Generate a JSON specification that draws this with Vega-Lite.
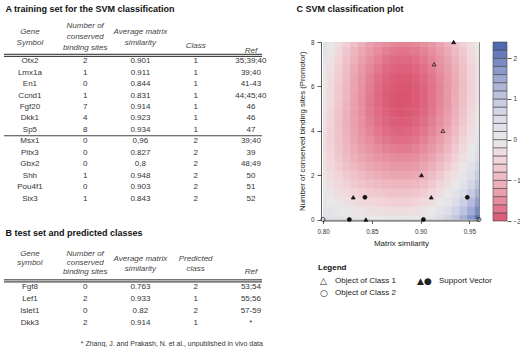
{
"$schema": "https://vega.github.io/schema/vega-lite/v6.json",
"padding": {"left": 2, "top": 4, "right": 0, "bottom": 0},
"background": "white",
"config": {"font": "Liberation Sans", "view": {"stroke": null}, "title": {"color": "#111"}},
"datasets": {
"trainA": [
{"gene":"Otx2","sites":2,"sim":"0.901","cls":1,"ref":"35;39;40"},
{"gene":"Lmx1a","sites":1,"sim":"0.911","cls":1,"ref":"39;40"},
{"gene":"En1","sites":0,"sim":"0.844","cls":1,"ref":"41-43"},
{"gene":"Ccnd1","sites":1,"sim":"0.831","cls":1,"ref":"44;45;40"},
{"gene":"Fgf20","sites":7,"sim":"0.914","cls":1,"ref":"46"},
{"gene":"Dkk1","sites":4,"sim":"0.923","cls":1,"ref":"46"},
{"gene":"Sp5","sites":8,"sim":"0.934","cls":1,"ref":"47"},
{"gene":"Msx1","sites":0,"sim":"0,96","cls":2,"ref":"39;40"},
{"gene":"Pitx3","sites":0,"sim":"0.827","cls":2,"ref":"39"},
{"gene":"Gbx2","sites":0,"sim":"0,8","cls":2,"ref":"48;49"},
{"gene":"Shh","sites":1,"sim":"0.948","cls":2,"ref":"50"},
{"gene":"Pou4f1","sites":0,"sim":"0.903","cls":2,"ref":"51"},
{"gene":"Six3","sites":1,"sim":"0.843","cls":2,"ref":"52"}
],
"testB": [
{"gene":"Fgf8","sites":0,"sim":"0.763","cls":2,"ref":"53;54"},
{"gene":"Lef1","sites":2,"sim":"0.933","cls":1,"ref":"55;56"},
{"gene":"Islet1","sites":0,"sim":"0.82","cls":2,"ref":"57-59"},
{"gene":"Dkk3","sites":2,"sim":"0.914","cls":1,"ref":"*"}
],
"hdrA": [
{"key":"gene","label":"Gene\nSymbol","g":"a"},
{"key":"sites","label":"Number of\nconserved\nbinding sites","g":"n"},
{"key":"sim","label":"Average matrix\nsimilarity","g":"a"},
{"key":"cls","label":"Class","g":"b"},
{"key":"ref","label":"Ref","g":"c"}
],
"hdrB": [
{"key":"gene","label":"Gene\nsymbol","g":"a"},
{"key":"sites","label":"Number of\nconserved\nbinding sites","g":"a"},
{"key":"sim","label":"Average matrix\nsimilarity","g":"b"},
{"key":"cls","label":"Predicted\nclass","g":"b"},
{"key":"ref","label":"Ref","g":"c"}
],
"svm": [
{"gene":"Otx2","s":0.901,"n":2,"cls":"1","sv":"yes"},
{"gene":"Lmx1a","s":0.911,"n":1,"cls":"1","sv":"yes"},
{"gene":"En1","s":0.844,"n":0,"cls":"1","sv":"yes"},
{"gene":"Ccnd1","s":0.831,"n":1,"cls":"1","sv":"yes"},
{"gene":"Fgf20","s":0.914,"n":7,"cls":"1","sv":"no"},
{"gene":"Dkk1","s":0.923,"n":4,"cls":"1","sv":"no"},
{"gene":"Sp5","s":0.934,"n":8,"cls":"1","sv":"yes"},
{"gene":"Msx1","s":0.96,"n":0,"cls":"2","sv":"no"},
{"gene":"Pitx3","s":0.827,"n":0,"cls":"2","sv":"yes"},
{"gene":"Gbx2","s":0.8,"n":0,"cls":"2","sv":"no"},
{"gene":"Shh","s":0.948,"n":1,"cls":"2","sv":"yes"},
{"gene":"Pou4f1","s":0.903,"n":0,"cls":"2","sv":"yes"},
{"gene":"Six3","s":0.843,"n":1,"cls":"2","sv":"yes"}
],
"bar": [
{"lo":-2,"hi":-1.8,"v":-1.9},{"lo":-1.8,"hi":-1.6,"v":-1.7},{"lo":-1.6,"hi":-1.4,"v":-1.5},{"lo":-1.4,"hi":-1.2,"v":-1.3},
{"lo":-1.2,"hi":-1,"v":-1.1},{"lo":-1,"hi":-0.8,"v":-0.9},{"lo":-0.8,"hi":-0.6,"v":-0.7},{"lo":-0.6,"hi":-0.4,"v":-0.5},
{"lo":-0.4,"hi":-0.2,"v":-0.3},{"lo":-0.2,"hi":0,"v":-0.1},{"lo":0,"hi":0.2,"v":0.1},{"lo":0.2,"hi":0.4,"v":0.3},
{"lo":0.4,"hi":0.6,"v":0.5},{"lo":0.6,"hi":0.8,"v":0.7},{"lo":0.8,"hi":1,"v":0.9},{"lo":1,"hi":1.2,"v":1.1},
{"lo":1.2,"hi":1.4,"v":1.3},{"lo":1.4,"hi":1.6,"v":1.5},{"lo":1.6,"hi":1.8,"v":1.7},{"lo":1.8,"hi":2,"v":1.9},
{"lo":2,"hi":2.2,"v":2.1},{"lo":2.2,"hi":2.4,"v":2.3}
],
"legend": [
{"col":"a","row":"1","sym":"△","label":"Object of Class 1"},
{"col":"a","row":"2","sym":"○","label":"Object of Class 2"},
{"col":"b","row":"1","sym":"▲●","label":"Support Vector"}
],
"grid": [
{"s":0.8,"n":0,"f":0.45},{"s":0.808,"n":0,"f":0.35},{"s":0.816,"n":0,"f":0.27},{"s":0.824,"n":0,"f":0.19},{"s":0.832,"n":0,"f":0.13},{"s":0.84,"n":0,"f":0.07},{"s":0.848,"n":0,"f":0.02},{"s":0.856,"n":0,"f":-0.01},{"s":0.864,"n":0,"f":-0.04},{"s":0.872,"n":0,"f":-0.06},{"s":0.88,"n":0,"f":-0.06},{"s":0.888,"n":0,"f":-0.05},{"s":0.896,"n":0,"f":0.01},{"s":0.904,"n":0,"f":0.12},{"s":0.912,"n":0,"f":0.27},{"s":0.92,"n":0,"f":0.48},{"s":0.928,"n":0,"f":0.73},{"s":0.936,"n":0,"f":1.03},{"s":0.944,"n":0,"f":1.38},{"s":0.952,"n":0,"f":1.78},{"s":0.96,"n":0,"f":2.22},
{"s":0.8,"n":0.4,"f":0.28},{"s":0.808,"n":0.4,"f":0.17},{"s":0.816,"n":0.4,"f":0.07},{"s":0.824,"n":0.4,"f":-0.03},{"s":0.832,"n":0.4,"f":-0.11},{"s":0.84,"n":0.4,"f":-0.17},{"s":0.848,"n":0.4,"f":-0.23},{"s":0.856,"n":0.4,"f":-0.27},{"s":0.864,"n":0.4,"f":-0.31},{"s":0.872,"n":0.4,"f":-0.33},{"s":0.88,"n":0.4,"f":-0.34},{"s":0.888,"n":0.4,"f":-0.32},{"s":0.896,"n":0.4,"f":-0.26},{"s":0.904,"n":0.4,"f":-0.16},{"s":0.912,"n":0.4,"f":0},{"s":0.92,"n":0.4,"f":0.2},{"s":0.928,"n":0.4,"f":0.45},{"s":0.936,"n":0.4,"f":0.74},{"s":0.944,"n":0.4,"f":1.09},{"s":0.952,"n":0.4,"f":1.48},{"s":0.96,"n":0.4,"f":1.91},
{"s":0.8,"n":0.8,"f":0.14},{"s":0.808,"n":0.8,"f":0.01},{"s":0.816,"n":0.8,"f":-0.12},{"s":0.824,"n":0.8,"f":-0.22},{"s":0.832,"n":0.8,"f":-0.32},{"s":0.84,"n":0.8,"f":-0.4},{"s":0.848,"n":0.8,"f":-0.46},{"s":0.856,"n":0.8,"f":-0.51},{"s":0.864,"n":0.8,"f":-0.55},{"s":0.872,"n":0.8,"f":-0.58},{"s":0.88,"n":0.8,"f":-0.59},{"s":0.888,"n":0.8,"f":-0.57},{"s":0.896,"n":0.8,"f":-0.52},{"s":0.904,"n":0.8,"f":-0.41},{"s":0.912,"n":0.8,"f":-0.26},{"s":0.92,"n":0.8,"f":-0.06},{"s":0.928,"n":0.8,"f":0.18},{"s":0.936,"n":0.8,"f":0.48},{"s":0.944,"n":0.8,"f":0.81},{"s":0.952,"n":0.8,"f":1.2},{"s":0.96,"n":0.8,"f":1.63},
{"s":0.8,"n":1.2,"f":0.02},{"s":0.808,"n":1.2,"f":-0.14},{"s":0.816,"n":1.2,"f":-0.28},{"s":0.824,"n":1.2,"f":-0.4},{"s":0.832,"n":1.2,"f":-0.51},{"s":0.84,"n":1.2,"f":-0.6},{"s":0.848,"n":1.2,"f":-0.67},{"s":0.856,"n":1.2,"f":-0.73},{"s":0.864,"n":1.2,"f":-0.78},{"s":0.872,"n":1.2,"f":-0.8},{"s":0.88,"n":1.2,"f":-0.82},{"s":0.888,"n":1.2,"f":-0.8},{"s":0.896,"n":1.2,"f":-0.75},{"s":0.904,"n":1.2,"f":-0.64},{"s":0.912,"n":1.2,"f":-0.49},{"s":0.92,"n":1.2,"f":-0.3},{"s":0.928,"n":1.2,"f":-0.06},{"s":0.936,"n":1.2,"f":0.23},{"s":0.944,"n":1.2,"f":0.56},{"s":0.952,"n":1.2,"f":0.94},{"s":0.96,"n":1.2,"f":1.36},
{"s":0.8,"n":1.6,"f":-0.08},{"s":0.808,"n":1.6,"f":-0.26},{"s":0.816,"n":1.6,"f":-0.42},{"s":0.824,"n":1.6,"f":-0.55},{"s":0.832,"n":1.6,"f":-0.68},{"s":0.84,"n":1.6,"f":-0.78},{"s":0.848,"n":1.6,"f":-0.86},{"s":0.856,"n":1.6,"f":-0.93},{"s":0.864,"n":1.6,"f":-0.98},{"s":0.872,"n":1.6,"f":-1.01},{"s":0.88,"n":1.6,"f":-1.03},{"s":0.888,"n":1.6,"f":-1.01},{"s":0.896,"n":1.6,"f":-0.96},{"s":0.904,"n":1.6,"f":-0.86},{"s":0.912,"n":1.6,"f":-0.71},{"s":0.92,"n":1.6,"f":-0.52},{"s":0.928,"n":1.6,"f":-0.28},{"s":0.936,"n":1.6,"f":0},{"s":0.944,"n":1.6,"f":0.33},{"s":0.952,"n":1.6,"f":0.7},{"s":0.96,"n":1.6,"f":1.12},
{"s":0.8,"n":2,"f":-0.16},{"s":0.808,"n":2,"f":-0.36},{"s":0.816,"n":2,"f":-0.54},{"s":0.824,"n":2,"f":-0.69},{"s":0.832,"n":2,"f":-0.83},{"s":0.84,"n":2,"f":-0.94},{"s":0.848,"n":2,"f":-1.04},{"s":0.856,"n":2,"f":-1.11},{"s":0.864,"n":2,"f":-1.17},{"s":0.872,"n":2,"f":-1.2},{"s":0.88,"n":2,"f":-1.22},{"s":0.888,"n":2,"f":-1.2},{"s":0.896,"n":2,"f":-1.15},{"s":0.904,"n":2,"f":-1.05},{"s":0.912,"n":2,"f":-0.9},{"s":0.92,"n":2,"f":-0.72},{"s":0.928,"n":2,"f":-0.48},{"s":0.936,"n":2,"f":-0.2},{"s":0.944,"n":2,"f":0.12},{"s":0.952,"n":2,"f":0.48},{"s":0.96,"n":2,"f":0.9},
{"s":0.8,"n":2.4,"f":-0.23},{"s":0.808,"n":2.4,"f":-0.44},{"s":0.816,"n":2.4,"f":-0.63},{"s":0.824,"n":2.4,"f":-0.81},{"s":0.832,"n":2.4,"f":-0.95},{"s":0.84,"n":2.4,"f":-1.08},{"s":0.848,"n":2.4,"f":-1.19},{"s":0.856,"n":2.4,"f":-1.27},{"s":0.864,"n":2.4,"f":-1.33},{"s":0.872,"n":2.4,"f":-1.37},{"s":0.88,"n":2.4,"f":-1.38},{"s":0.888,"n":2.4,"f":-1.37},{"s":0.896,"n":2.4,"f":-1.32},{"s":0.904,"n":2.4,"f":-1.22},{"s":0.912,"n":2.4,"f":-1.08},{"s":0.92,"n":2.4,"f":-0.89},{"s":0.928,"n":2.4,"f":-0.66},{"s":0.936,"n":2.4,"f":-0.39},{"s":0.944,"n":2.4,"f":-0.07},{"s":0.952,"n":2.4,"f":0.29},{"s":0.96,"n":2.4,"f":0.69},
{"s":0.8,"n":2.8,"f":-0.27},{"s":0.808,"n":2.8,"f":-0.5},{"s":0.816,"n":2.8,"f":-0.71},{"s":0.824,"n":2.8,"f":-0.9},{"s":0.832,"n":2.8,"f":-1.06},{"s":0.84,"n":2.8,"f":-1.2},{"s":0.848,"n":2.8,"f":-1.32},{"s":0.856,"n":2.8,"f":-1.41},{"s":0.864,"n":2.8,"f":-1.47},{"s":0.872,"n":2.8,"f":-1.51},{"s":0.88,"n":2.8,"f":-1.53},{"s":0.888,"n":2.8,"f":-1.52},{"s":0.896,"n":2.8,"f":-1.47},{"s":0.904,"n":2.8,"f":-1.37},{"s":0.912,"n":2.8,"f":-1.23},{"s":0.92,"n":2.8,"f":-1.05},{"s":0.928,"n":2.8,"f":-0.82},{"s":0.936,"n":2.8,"f":-0.56},{"s":0.944,"n":2.8,"f":-0.24},{"s":0.952,"n":2.8,"f":0.11},{"s":0.96,"n":2.8,"f":0.51},
{"s":0.8,"n":3.2,"f":-0.29},{"s":0.808,"n":3.2,"f":-0.54},{"s":0.816,"n":3.2,"f":-0.77},{"s":0.824,"n":3.2,"f":-0.97},{"s":0.832,"n":3.2,"f":-1.15},{"s":0.84,"n":3.2,"f":-1.3},{"s":0.848,"n":3.2,"f":-1.43},{"s":0.856,"n":3.2,"f":-1.52},{"s":0.864,"n":3.2,"f":-1.6},{"s":0.872,"n":3.2,"f":-1.64},{"s":0.88,"n":3.2,"f":-1.66},{"s":0.888,"n":3.2,"f":-1.65},{"s":0.896,"n":3.2,"f":-1.6},{"s":0.904,"n":3.2,"f":-1.5},{"s":0.912,"n":3.2,"f":-1.36},{"s":0.92,"n":3.2,"f":-1.19},{"s":0.928,"n":3.2,"f":-0.96},{"s":0.936,"n":3.2,"f":-0.7},{"s":0.944,"n":3.2,"f":-0.39},{"s":0.952,"n":3.2,"f":-0.05},{"s":0.96,"n":3.2,"f":0.35},
{"s":0.8,"n":3.6,"f":-0.29},{"s":0.808,"n":3.6,"f":-0.56},{"s":0.816,"n":3.6,"f":-0.81},{"s":0.824,"n":3.6,"f":-1.03},{"s":0.832,"n":3.6,"f":-1.22},{"s":0.84,"n":3.6,"f":-1.38},{"s":0.848,"n":3.6,"f":-1.51},{"s":0.856,"n":3.6,"f":-1.62},{"s":0.864,"n":3.6,"f":-1.7},{"s":0.872,"n":3.6,"f":-1.75},{"s":0.88,"n":3.6,"f":-1.77},{"s":0.888,"n":3.6,"f":-1.76},{"s":0.896,"n":3.6,"f":-1.71},{"s":0.904,"n":3.6,"f":-1.61},{"s":0.912,"n":3.6,"f":-1.48},{"s":0.92,"n":3.6,"f":-1.3},{"s":0.928,"n":3.6,"f":-1.08},{"s":0.936,"n":3.6,"f":-0.82},{"s":0.944,"n":3.6,"f":-0.52},{"s":0.952,"n":3.6,"f":-0.18},{"s":0.96,"n":3.6,"f":0.2},
{"s":0.8,"n":4,"f":-0.26},{"s":0.808,"n":4,"f":-0.56},{"s":0.816,"n":4,"f":-0.83},{"s":0.824,"n":4,"f":-1.06},{"s":0.832,"n":4,"f":-1.26},{"s":0.84,"n":4,"f":-1.44},{"s":0.848,"n":4,"f":-1.58},{"s":0.856,"n":4,"f":-1.7},{"s":0.864,"n":4,"f":-1.78},{"s":0.872,"n":4,"f":-1.83},{"s":0.88,"n":4,"f":-1.86},{"s":0.888,"n":4,"f":-1.84},{"s":0.896,"n":4,"f":-1.79},{"s":0.904,"n":4,"f":-1.7},{"s":0.912,"n":4,"f":-1.57},{"s":0.92,"n":4,"f":-1.4},{"s":0.928,"n":4,"f":-1.18},{"s":0.936,"n":4,"f":-0.93},{"s":0.944,"n":4,"f":-0.63},{"s":0.952,"n":4,"f":-0.3},{"s":0.96,"n":4,"f":0.08},
{"s":0.8,"n":4.4,"f":-0.22},{"s":0.808,"n":4.4,"f":-0.54},{"s":0.816,"n":4.4,"f":-0.82},{"s":0.824,"n":4.4,"f":-1.07},{"s":0.832,"n":4.4,"f":-1.29},{"s":0.84,"n":4.4,"f":-1.48},{"s":0.848,"n":4.4,"f":-1.63},{"s":0.856,"n":4.4,"f":-1.75},{"s":0.864,"n":4.4,"f":-1.84},{"s":0.872,"n":4.4,"f":-1.9},{"s":0.88,"n":4.4,"f":-1.92},{"s":0.888,"n":4.4,"f":-1.91},{"s":0.896,"n":4.4,"f":-1.86},{"s":0.904,"n":4.4,"f":-1.77},{"s":0.912,"n":4.4,"f":-1.64},{"s":0.92,"n":4.4,"f":-1.47},{"s":0.928,"n":4.4,"f":-1.26},{"s":0.936,"n":4.4,"f":-1.01},{"s":0.944,"n":4.4,"f":-0.72},{"s":0.952,"n":4.4,"f":-0.39},{"s":0.96,"n":4.4,"f":-0.02},
{"s":0.8,"n":4.8,"f":-0.16},{"s":0.808,"n":4.8,"f":-0.5},{"s":0.816,"n":4.8,"f":-0.8},{"s":0.824,"n":4.8,"f":-1.06},{"s":0.832,"n":4.8,"f":-1.3},{"s":0.84,"n":4.8,"f":-1.49},{"s":0.848,"n":4.8,"f":-1.66},{"s":0.856,"n":4.8,"f":-1.79},{"s":0.864,"n":4.8,"f":-1.88},{"s":0.872,"n":4.8,"f":-1.94},{"s":0.88,"n":4.8,"f":-1.97},{"s":0.888,"n":4.8,"f":-1.96},{"s":0.896,"n":4.8,"f":-1.91},{"s":0.904,"n":4.8,"f":-1.82},{"s":0.912,"n":4.8,"f":-1.69},{"s":0.92,"n":4.8,"f":-1.53},{"s":0.928,"n":4.8,"f":-1.32},{"s":0.936,"n":4.8,"f":-1.07},{"s":0.944,"n":4.8,"f":-0.79},{"s":0.952,"n":4.8,"f":-0.46},{"s":0.96,"n":4.8,"f":-0.1},
{"s":0.8,"n":5.2,"f":-0.08},{"s":0.808,"n":5.2,"f":-0.43},{"s":0.816,"n":5.2,"f":-0.75},{"s":0.824,"n":5.2,"f":-1.04},{"s":0.832,"n":5.2,"f":-1.28},{"s":0.84,"n":5.2,"f":-1.49},{"s":0.848,"n":5.2,"f":-1.67},{"s":0.856,"n":5.2,"f":-1.8},{"s":0.864,"n":5.2,"f":-1.9},{"s":0.872,"n":5.2,"f":-1.97},{"s":0.88,"n":5.2,"f":-1.99},{"s":0.888,"n":5.2,"f":-1.98},{"s":0.896,"n":5.2,"f":-1.94},{"s":0.904,"n":5.2,"f":-1.85},{"s":0.912,"n":5.2,"f":-1.72},{"s":0.92,"n":5.2,"f":-1.56},{"s":0.928,"n":5.2,"f":-1.36},{"s":0.936,"n":5.2,"f":-1.12},{"s":0.944,"n":5.2,"f":-0.84},{"s":0.952,"n":5.2,"f":-0.52},{"s":0.96,"n":5.2,"f":-0.16},
{"s":0.8,"n":5.6,"f":0},{"s":0.808,"n":5.6,"f":-0.37},{"s":0.816,"n":5.6,"f":-0.71},{"s":0.824,"n":5.6,"f":-1},{"s":0.832,"n":5.6,"f":-1.26},{"s":0.84,"n":5.6,"f":-1.48},{"s":0.848,"n":5.6,"f":-1.66},{"s":0.856,"n":5.6,"f":-1.8},{"s":0.864,"n":5.6,"f":-1.9},{"s":0.872,"n":5.6,"f":-1.97},{"s":0.88,"n":5.6,"f":-2},{"s":0.888,"n":5.6,"f":-1.99},{"s":0.896,"n":5.6,"f":-1.94},{"s":0.904,"n":5.6,"f":-1.86},{"s":0.912,"n":5.6,"f":-1.73},{"s":0.92,"n":5.6,"f":-1.57},{"s":0.928,"n":5.6,"f":-1.37},{"s":0.936,"n":5.6,"f":-1.14},{"s":0.944,"n":5.6,"f":-0.86},{"s":0.952,"n":5.6,"f":-0.55},{"s":0.96,"n":5.6,"f":-0.2},
{"s":0.8,"n":6,"f":0.01},{"s":0.808,"n":6,"f":-0.36},{"s":0.816,"n":6,"f":-0.69},{"s":0.824,"n":6,"f":-0.99},{"s":0.832,"n":6,"f":-1.24},{"s":0.84,"n":6,"f":-1.46},{"s":0.848,"n":6,"f":-1.64},{"s":0.856,"n":6,"f":-1.78},{"s":0.864,"n":6,"f":-1.89},{"s":0.872,"n":6,"f":-1.95},{"s":0.88,"n":6,"f":-1.98},{"s":0.888,"n":6,"f":-1.97},{"s":0.896,"n":6,"f":-1.93},{"s":0.904,"n":6,"f":-1.84},{"s":0.912,"n":6,"f":-1.72},{"s":0.92,"n":6,"f":-1.57},{"s":0.928,"n":6,"f":-1.37},{"s":0.936,"n":6,"f":-1.14},{"s":0.944,"n":6,"f":-0.87},{"s":0.952,"n":6,"f":-0.56},{"s":0.96,"n":6,"f":-0.22},
{"s":0.8,"n":6.4,"f":0.05},{"s":0.808,"n":6.4,"f":-0.32},{"s":0.816,"n":6.4,"f":-0.66},{"s":0.824,"n":6.4,"f":-0.95},{"s":0.832,"n":6.4,"f":-1.21},{"s":0.84,"n":6.4,"f":-1.42},{"s":0.848,"n":6.4,"f":-1.61},{"s":0.856,"n":6.4,"f":-1.75},{"s":0.864,"n":6.4,"f":-1.85},{"s":0.872,"n":6.4,"f":-1.92},{"s":0.88,"n":6.4,"f":-1.95},{"s":0.888,"n":6.4,"f":-1.94},{"s":0.896,"n":6.4,"f":-1.89},{"s":0.904,"n":6.4,"f":-1.81},{"s":0.912,"n":6.4,"f":-1.69},{"s":0.92,"n":6.4,"f":-1.54},{"s":0.928,"n":6.4,"f":-1.35},{"s":0.936,"n":6.4,"f":-1.12},{"s":0.944,"n":6.4,"f":-0.86},{"s":0.952,"n":6.4,"f":-0.56},{"s":0.96,"n":6.4,"f":-0.22},
{"s":0.8,"n":6.8,"f":0.1},{"s":0.808,"n":6.8,"f":-0.27},{"s":0.816,"n":6.8,"f":-0.6},{"s":0.824,"n":6.8,"f":-0.89},{"s":0.832,"n":6.8,"f":-1.15},{"s":0.84,"n":6.8,"f":-1.37},{"s":0.848,"n":6.8,"f":-1.55},{"s":0.856,"n":6.8,"f":-1.69},{"s":0.864,"n":6.8,"f":-1.8},{"s":0.872,"n":6.8,"f":-1.86},{"s":0.88,"n":6.8,"f":-1.89},{"s":0.888,"n":6.8,"f":-1.88},{"s":0.896,"n":6.8,"f":-1.84},{"s":0.904,"n":6.8,"f":-1.76},{"s":0.912,"n":6.8,"f":-1.64},{"s":0.92,"n":6.8,"f":-1.49},{"s":0.928,"n":6.8,"f":-1.3},{"s":0.936,"n":6.8,"f":-1.08},{"s":0.944,"n":6.8,"f":-0.82},{"s":0.952,"n":6.8,"f":-0.53},{"s":0.96,"n":6.8,"f":-0.2},
{"s":0.8,"n":7.2,"f":0.18},{"s":0.808,"n":7.2,"f":-0.19},{"s":0.816,"n":7.2,"f":-0.52},{"s":0.824,"n":7.2,"f":-0.82},{"s":0.832,"n":7.2,"f":-1.07},{"s":0.84,"n":7.2,"f":-1.29},{"s":0.848,"n":7.2,"f":-1.47},{"s":0.856,"n":7.2,"f":-1.61},{"s":0.864,"n":7.2,"f":-1.72},{"s":0.872,"n":7.2,"f":-1.79},{"s":0.88,"n":7.2,"f":-1.81},{"s":0.888,"n":7.2,"f":-1.81},{"s":0.896,"n":7.2,"f":-1.76},{"s":0.904,"n":7.2,"f":-1.68},{"s":0.912,"n":7.2,"f":-1.57},{"s":0.92,"n":7.2,"f":-1.42},{"s":0.928,"n":7.2,"f":-1.24},{"s":0.936,"n":7.2,"f":-1.02},{"s":0.944,"n":7.2,"f":-0.77},{"s":0.952,"n":7.2,"f":-0.48},{"s":0.96,"n":7.2,"f":-0.16},
{"s":0.8,"n":7.6,"f":0.28},{"s":0.808,"n":7.6,"f":-0.09},{"s":0.816,"n":7.6,"f":-0.42},{"s":0.824,"n":7.6,"f":-0.72},{"s":0.832,"n":7.6,"f":-0.98},{"s":0.84,"n":7.6,"f":-1.19},{"s":0.848,"n":7.6,"f":-1.37},{"s":0.856,"n":7.6,"f":-1.52},{"s":0.864,"n":7.6,"f":-1.62},{"s":0.872,"n":7.6,"f":-1.69},{"s":0.88,"n":7.6,"f":-1.72},{"s":0.888,"n":7.6,"f":-1.71},{"s":0.896,"n":7.6,"f":-1.67},{"s":0.904,"n":7.6,"f":-1.59},{"s":0.912,"n":7.6,"f":-1.48},{"s":0.92,"n":7.6,"f":-1.33},{"s":0.928,"n":7.6,"f":-1.15},{"s":0.936,"n":7.6,"f":-0.94},{"s":0.944,"n":7.6,"f":-0.69},{"s":0.952,"n":7.6,"f":-0.41},{"s":0.96,"n":7.6,"f":-0.09},
{"s":0.8,"n":8,"f":0.4},{"s":0.808,"n":8,"f":0.03},{"s":0.816,"n":8,"f":-0.31},{"s":0.824,"n":8,"f":-0.6},{"s":0.832,"n":8,"f":-0.86},{"s":0.84,"n":8,"f":-1.08},{"s":0.848,"n":8,"f":-1.26},{"s":0.856,"n":8,"f":-1.4},{"s":0.864,"n":8,"f":-1.5},{"s":0.872,"n":8,"f":-1.57},{"s":0.88,"n":8,"f":-1.6},{"s":0.888,"n":8,"f":-1.59},{"s":0.896,"n":8,"f":-1.55},{"s":0.904,"n":8,"f":-1.47},{"s":0.912,"n":8,"f":-1.37},{"s":0.92,"n":8,"f":-1.22},{"s":0.928,"n":8,"f":-1.05},{"s":0.936,"n":8,"f":-0.84},{"s":0.944,"n":8,"f":-0.6},{"s":0.952,"n":8,"f":-0.32},{"s":0.96,"n":8,"f":-0.01}
]
},
"spacing": 28,
"hconcat": [
{"spacing": 23, "vconcat": [
 {"spacing": 7, "vconcat": [
  {"width": 172, "height": 9, "data": {"values": [{"t": "A  training set for the SVM classification"}]},
   "mark": {"type": "text", "fontSize": 9, "fontWeight": "bold", "color": "#111", "baseline": "middle"},
   "encoding": {"text": {"field": "t"}}},
  {"width": 258, "height": 183.5,
   "layer": [
    {"data": {"name": "trainA"}, "transform": [{"fold": ["gene","sites","sim","cls","ref"], "as": ["key","val"]}],
     "mark": {"type": "text", "fontSize": 8, "color": "#333", "baseline": "middle"},
     "encoding": {
      "x": {"field": "key", "type": "nominal", "axis": null, "scale": {"type": "point", "domain": ["gene","sites","sim","cls","ref"], "padding": 0.335, "align": 0.7}},
      "y": {"field": "gene", "type": "nominal", "axis": null, "scale": {"type": "band", "domain": ["hdr","Otx2","Lmx1a","En1","Ccnd1","Fgf20","Dkk1","Sp5","Msx1","Pitx3","Gbx2","Shh","Pou4f1","Six3"], "paddingInner": 0, "paddingOuter": 1.048, "align": 1}},
      "text": {"field": "val", "type": "nominal"}}},
    {"data": {"name": "hdrA"}, "transform": [{"filter": "datum.g == 'a'"}],
     "mark": {"type": "text", "fontSize": 8, "fontStyle": "italic", "color": "#444", "baseline": "middle", "lineBreak": "\n", "lineHeight": 10.3, "dy": -23},
     "encoding": {"x": {"field": "key", "type": "nominal"}, "y": {"datum": "hdr", "type": "nominal", "bandPosition": 1}, "text": {"field": "label"}}},
    {"data": {"name": "hdrA"}, "transform": [{"filter": "datum.g == 'n'"}],
     "mark": {"type": "text", "fontSize": 8, "fontStyle": "italic", "color": "#444", "baseline": "middle", "lineBreak": "\n", "lineHeight": 10.8, "dy": -29.3},
     "encoding": {"x": {"field": "key", "type": "nominal"}, "y": {"datum": "hdr", "type": "nominal", "bandPosition": 1}, "text": {"field": "label"}}},
    {"data": {"name": "hdrA"}, "transform": [{"filter": "datum.g == 'b'"}],
     "mark": {"type": "text", "fontSize": 8, "fontStyle": "italic", "color": "#444", "baseline": "middle", "dy": -9.6},
     "encoding": {"x": {"field": "key", "type": "nominal"}, "y": {"datum": "hdr", "type": "nominal", "bandPosition": 1}, "text": {"field": "label"}}},
    {"data": {"name": "hdrA"}, "transform": [{"filter": "datum.g == 'c'"}],
     "mark": {"type": "text", "fontSize": 8, "fontStyle": "italic", "color": "#444", "baseline": "middle", "dy": -4.6},
     "encoding": {"x": {"field": "key", "type": "nominal"}, "y": {"datum": "hdr", "type": "nominal", "bandPosition": 1}, "text": {"field": "label"}}},
    {"data": {"values": [{}]}, "mark": {"type": "rule", "color": "#444", "strokeWidth": 3.4},
     "encoding": {"y": {"datum": "hdr", "type": "nominal", "bandPosition": 1}}},
    {"data": {"values": [{}]}, "mark": {"type": "rule", "color": "white", "strokeWidth": 0.9},
     "encoding": {"y": {"datum": "hdr", "type": "nominal", "bandPosition": 1}}},
    {"data": {"values": [{}]}, "mark": {"type": "rule", "color": "#444", "strokeWidth": 1.1},
     "encoding": {"y": {"datum": "Sp5", "type": "nominal", "bandPosition": 1}}}
   ]}
 ]},
 {"spacing": 7, "vconcat": [
  {"width": 140, "height": 9, "data": {"values": [{"t": "B  test set and predicted classes"}]},
   "mark": {"type": "text", "fontSize": 9, "fontWeight": "bold", "color": "#111", "baseline": "middle"},
   "encoding": {"text": {"field": "t"}}},
  {"width": 258, "height": 83.6,
   "layer": [
    {"data": {"name": "testB"}, "transform": [{"fold": ["gene","sites","sim","cls","ref"], "as": ["key","val"]}],
     "mark": {"type": "text", "fontSize": 8, "color": "#333", "baseline": "middle"},
     "encoding": {
      "x": {"field": "key", "type": "nominal", "axis": null, "scale": {"type": "point", "domain": ["gene","sites","sim","cls","ref"], "padding": 0.335, "align": 0.7}},
      "y": {"field": "gene", "type": "nominal", "axis": null, "scale": {"type": "band", "domain": ["hdr","Fgf8","Lef1","Islet1","Dkk3"], "paddingInner": 0, "paddingOuter": 1.167, "align": 1}},
      "text": {"field": "val", "type": "nominal"}}},
    {"data": {"name": "hdrB"}, "transform": [{"filter": "datum.g == 'a'"}],
     "mark": {"type": "text", "fontSize": 8, "fontStyle": "italic", "color": "#444", "baseline": "middle", "lineBreak": "\n", "lineHeight": 9.3, "dy": -27.2},
     "encoding": {"x": {"field": "key", "type": "nominal"}, "y": {"datum": "hdr", "type": "nominal", "bandPosition": 1}, "text": {"field": "label"}}},
    {"data": {"name": "hdrB"}, "transform": [{"filter": "datum.g == 'b'"}],
     "mark": {"type": "text", "fontSize": 8, "fontStyle": "italic", "color": "#444", "baseline": "middle", "lineBreak": "\n", "lineHeight": 9.3, "dy": -21.5},
     "encoding": {"x": {"field": "key", "type": "nominal"}, "y": {"datum": "hdr", "type": "nominal", "bandPosition": 1}, "text": {"field": "label"}}},
    {"data": {"name": "hdrB"}, "transform": [{"filter": "datum.g == 'c'"}],
     "mark": {"type": "text", "fontSize": 8, "fontStyle": "italic", "color": "#444", "baseline": "middle", "dy": -8.8},
     "encoding": {"x": {"field": "key", "type": "nominal"}, "y": {"datum": "hdr", "type": "nominal", "bandPosition": 1}, "text": {"field": "label"}}},
    {"data": {"values": [{}]}, "mark": {"type": "rule", "color": "#444", "strokeWidth": 3.4},
     "encoding": {"y": {"datum": "hdr", "type": "nominal", "bandPosition": 1}}},
    {"data": {"values": [{}]}, "mark": {"type": "rule", "color": "white", "strokeWidth": 0.9},
     "encoding": {"y": {"datum": "hdr", "type": "nominal", "bandPosition": 1}}},
    {"data": {"values": [{"t": "* Zhang, J. and Prakash, N. et al., unpublished in vivo data"}]},
     "mark": {"type": "text", "fontSize": 7, "color": "#333", "align": "right", "baseline": "middle", "dx": 12, "dy": 21},
     "encoding": {"x": {"datum": "ref", "type": "nominal"}, "y": {"datum": "Dkk3", "type": "nominal"}, "text": {"field": "t"}}}
   ]}
 ]}
]},
{"spacing": 15, "vconcat": [
 {"spacing": 24, "vconcat": [
  {"width": 54, "height": 9, "data": {"values": [{"t": "C  SVM classification plot"}]},
   "mark": {"type": "text", "fontSize": 9, "fontWeight": "bold", "color": "#111", "baseline": "middle"},
   "encoding": {"text": {"field": "t"}}},
  {"spacing": 9, "hconcat": [
   {"width": 156, "height": 177.5,
    "view": {"stroke": "#8a8a8a", "strokeWidth": 1},
    "layer": [
     {"data": {"name": "grid"}, "mark": {"type": "rect", "width": 8.2, "height": 9.3, "clip": true},
      "encoding": {
       "x": {"field": "s", "type": "quantitative", "scale": {"domain": [0.8, 0.96], "nice": false, "zero": false},
             "axis": {"title": "Matrix similarity", "values": [0.8, 0.85, 0.9, 0.95], "format": ".2f", "labelFontSize": 6.3, "titleFontSize": 8, "titleFontWeight": "normal", "tickSize": 3, "offset": 1, "labelPadding": 5, "titlePadding": 5, "grid": false, "domainColor": "#333", "tickColor": "#333", "labelColor": "#333", "titleColor": "#222", "domainWidth": 0.8, "tickWidth": 0.8, "labelFlush": false}},
       "y": {"field": "n", "type": "quantitative", "scale": {"domain": [0, 8], "nice": false, "zero": false},
             "axis": {"title": "Number of conserved binding sites (Promotor)", "values": [0, 2, 4, 6, 8], "labelFontSize": 6.3, "titleFontSize": 7.8, "titleFontWeight": "normal", "tickSize": 4, "offset": 2, "labelPadding": 3, "titlePadding": 4, "grid": false, "domainColor": "#333", "tickColor": "#333", "labelColor": "#333", "titleColor": "#222", "domainWidth": 0.8, "tickWidth": 0.8, "labelFlush": false}},
       "color": {"field": "f", "type": "quantitative", "legend": null,
                 "scale": {"domain": [-2, -1.8, -1.5, -1, -0.5, 0, 0.5, 1, 1.5, 2, 2.4], "range": ["#d9546f", "#df6a83", "#e68e9f", "#edb6c0", "#f1d5da", "#e8e8e8", "#dcdde9", "#c4c9e1", "#9ea9d1", "#7184bf", "#4762a9"]}}}},
     {"data": {"name": "svm"}, "mark": {"type": "point", "filled": true, "size": 16, "stroke": "#111", "strokeWidth": 0.7, "opacity": 1},
      "encoding": {
       "x": {"field": "s", "type": "quantitative"},
       "y": {"field": "n", "type": "quantitative"},
       "shape": {"field": "cls", "type": "nominal", "legend": null, "scale": {"domain": ["1", "2"], "range": ["triangle-up", "circle"]}},
       "fill": {"field": "sv", "type": "nominal", "legend": null, "scale": {"domain": ["yes", "no"], "range": ["#111", "transparent"]}}}}
    ]},
   {"width": 14, "height": 179,
    "data": {"name": "bar"},
    "mark": {"type": "rect", "stroke": "#444", "strokeWidth": 0.6},
    "encoding": {
     "y": {"field": "lo", "type": "quantitative", "scale": {"domain": [-2, 2.4], "nice": false, "zero": false},
           "axis": {"orient": "right", "title": null, "values": [-2, -1, 0, 1, 2], "labelFontSize": 6.3, "tickSize": 4, "domain": false, "labelPadding": 2, "grid": false, "tickColor": "#333", "labelColor": "#333", "tickWidth": 0.8}},
     "y2": {"field": "hi"},
     "color": {"field": "v", "type": "quantitative", "legend": null,
               "scale": {"domain": [-2, -1.8, -1.5, -1, -0.5, 0, 0.5, 1, 1.5, 2, 2.4], "range": ["#d9546f", "#df6a83", "#e68e9f", "#edb6c0", "#f1d5da", "#e8e8e8", "#dcdde9", "#c4c9e1", "#9ea9d1", "#7184bf", "#4762a9"]}}}}
  ]}
 ]},
 {"width": 97, "height": 12,
  "title": {"text": "Legend", "anchor": "start", "fontSize": 8, "fontWeight": "bold", "offset": 5, "dx": -2},
  "data": {"name": "legend"},
  "layer": [
   {"mark": {"type": "text", "font": "DejaVu Sans", "fontSize": 9, "align": "left", "baseline": "middle", "color": "#222", "dx": -3},
    "encoding": {"x": {"field": "col", "type": "nominal", "axis": null, "scale": {"type": "point", "padding": 0}},
                 "y": {"field": "row", "type": "nominal", "axis": null, "scale": {"type": "point", "padding": 0}},
                 "text": {"field": "sym"}}},
   {"transform": [{"filter": "datum.col == 'a'"}],
    "mark": {"type": "text", "fontSize": 8, "align": "left", "baseline": "middle", "dx": 12, "color": "#222"},
    "encoding": {"x": {"field": "col", "type": "nominal"}, "y": {"field": "row", "type": "nominal"}, "text": {"field": "label"}}},
   {"transform": [{"filter": "datum.col == 'b'"}],
    "mark": {"type": "text", "fontSize": 8, "align": "left", "baseline": "middle", "dx": 19, "color": "#222"},
    "encoding": {"x": {"field": "col", "type": "nominal"}, "y": {"field": "row", "type": "nominal"}, "text": {"field": "label"}}}
  ]}
]}
]
}
